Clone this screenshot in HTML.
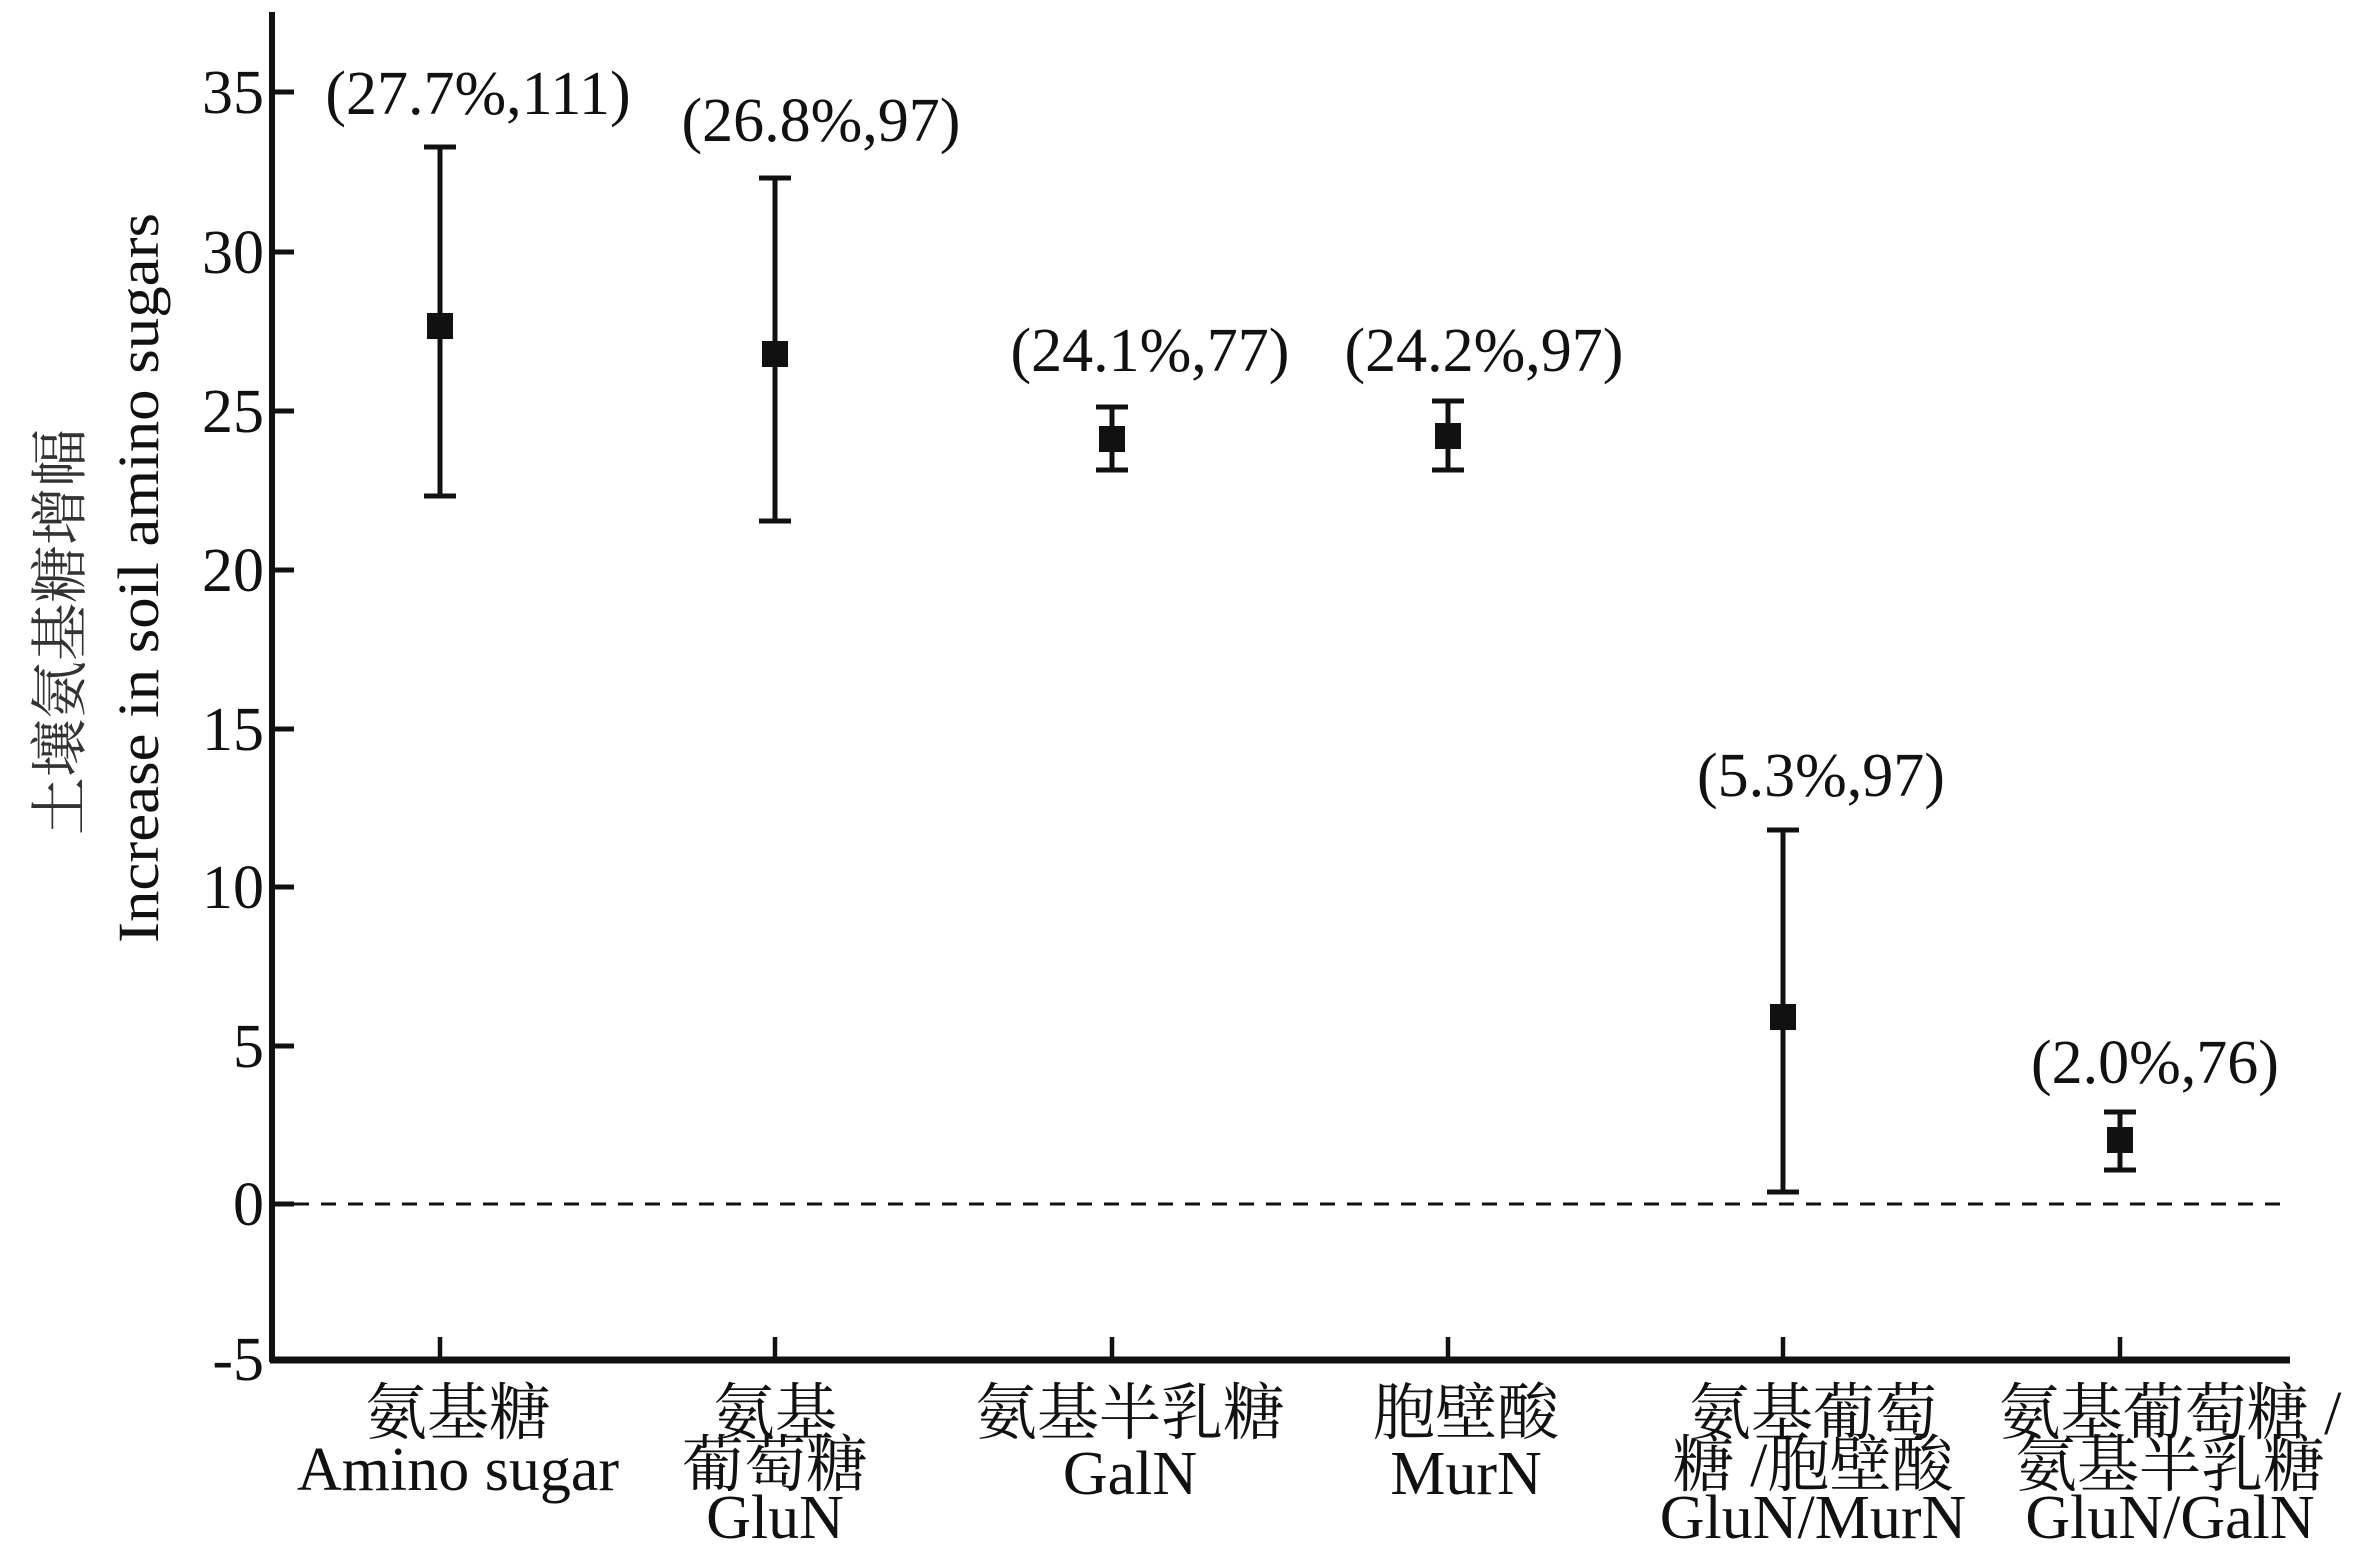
<!DOCTYPE html>
<html><head><meta charset="utf-8"><style>html,body{margin:0;padding:0;background:#fff}svg{display:block}</style></head>
<body>
<svg width="2362" height="1551" viewBox="0 0 2362 1551" xmlns="http://www.w3.org/2000/svg" font-family="'Liberation Serif','Noto Serif CJK SC',serif" fill="#111">
<line x1="272" y1="12" x2="272" y2="1362" stroke="#111" stroke-width="6"/>
<line x1="270" y1="1360" x2="2290" y2="1360" stroke="#111" stroke-width="7"/>
<g stroke="#111" stroke-width="5">
<line x1="272" y1="92" x2="294" y2="92"/>
<line x1="272" y1="252" x2="294" y2="252"/>
<line x1="272" y1="411" x2="294" y2="411"/>
<line x1="272" y1="570" x2="294" y2="570"/>
<line x1="272" y1="729" x2="294" y2="729"/>
<line x1="272" y1="887" x2="294" y2="887"/>
<line x1="272" y1="1046" x2="294" y2="1046"/>
<line x1="272" y1="1204" x2="294" y2="1204"/>
</g>
<g font-size="62" text-anchor="end">
<text x="264" y="113">35</text>
<text x="264" y="273">30</text>
<text x="264" y="432">25</text>
<text x="264" y="591">20</text>
<text x="264" y="750">15</text>
<text x="264" y="908">10</text>
<text x="264" y="1067">5</text>
<text x="264" y="1225">0</text>
<text x="264" y="1380">-5</text>
</g>
<line x1="294" y1="1204" x2="2290" y2="1204" stroke="#111" stroke-width="3" stroke-dasharray="15,12"/>
<g stroke="#111" stroke-width="4.5">
<line x1="440" y1="1337" x2="440" y2="1360"/>
<line x1="775" y1="1337" x2="775" y2="1360"/>
<line x1="1112" y1="1337" x2="1112" y2="1360"/>
<line x1="1448" y1="1337" x2="1448" y2="1360"/>
<line x1="1783" y1="1337" x2="1783" y2="1360"/>
<line x1="2120" y1="1337" x2="2120" y2="1360"/>
</g>
<g stroke="#111" stroke-width="5">
<line x1="440" y1="147" x2="440" y2="496"/><line x1="424" y1="147" x2="456" y2="147"/><line x1="424" y1="496" x2="456" y2="496"/>
<line x1="775" y1="178" x2="775" y2="521"/><line x1="759" y1="178" x2="791" y2="178"/><line x1="759" y1="521" x2="791" y2="521"/>
<line x1="1112" y1="407" x2="1112" y2="470"/><line x1="1096" y1="407" x2="1128" y2="407"/><line x1="1096" y1="470" x2="1128" y2="470"/>
<line x1="1448" y1="401" x2="1448" y2="470"/><line x1="1432" y1="401" x2="1464" y2="401"/><line x1="1432" y1="470" x2="1464" y2="470"/>
<line x1="1783" y1="830" x2="1783" y2="1192"/><line x1="1767" y1="830" x2="1799" y2="830"/><line x1="1767" y1="1192" x2="1799" y2="1192"/>
<line x1="2120" y1="1112" x2="2120" y2="1170"/><line x1="2104" y1="1112" x2="2136" y2="1112"/><line x1="2104" y1="1170" x2="2136" y2="1170"/>
</g>
<g>
<rect x="427" y="313" width="26" height="26"/>
<rect x="762" y="341" width="26" height="26"/>
<rect x="1099" y="426" width="26" height="26"/>
<rect x="1435" y="423" width="26" height="26"/>
<rect x="1770" y="1004" width="26" height="26"/>
<rect x="2107" y="1127" width="26" height="26"/>
</g>
<g font-size="62" text-anchor="middle">
<text x="478" y="114">(27.7%,111)</text>
<text x="821" y="141">(26.8%,97)</text>
<text x="1150" y="371">(24.1%,77)</text>
<text x="1484" y="371">(24.2%,97)</text>
<text x="1821" y="796">(5.3%,97)</text>
<text x="2155" y="1083">(2.0%,76)</text>
</g>
<g font-size="62" text-anchor="middle">
<text x="458" y="1434">氨基糖</text>
<text x="458" y="1490">Amino sugar</text>
<text x="775" y="1434">氨基</text>
<text x="775" y="1486">葡萄糖</text>
<text x="775" y="1538">GluN</text>
<text x="1130" y="1434">氨基半乳糖</text>
<text x="1130" y="1494">GalN</text>
<text x="1466" y="1434">胞壁酸</text>
<text x="1466" y="1494">MurN</text>
<text x="1813" y="1434">氨基葡萄</text>
<text x="1813" y="1486">糖 /胞壁酸</text>
<text x="1813" y="1538">GluN/MurN</text>
<text x="2170" y="1434">氨基葡萄糖 /</text>
<text x="2170" y="1486">氨基半乳糖</text>
<text x="2170" y="1538">GluN/GalN</text>
</g>
<g font-size="58" text-anchor="middle">
<text transform="translate(80,632) rotate(-90)" fill="#333">土壤氨基糖增幅</text>
<text transform="translate(158,578) rotate(-90)" textLength="730" lengthAdjust="spacingAndGlyphs">Increase in soil amino sugars</text>
</g>
</svg>
</body></html>
